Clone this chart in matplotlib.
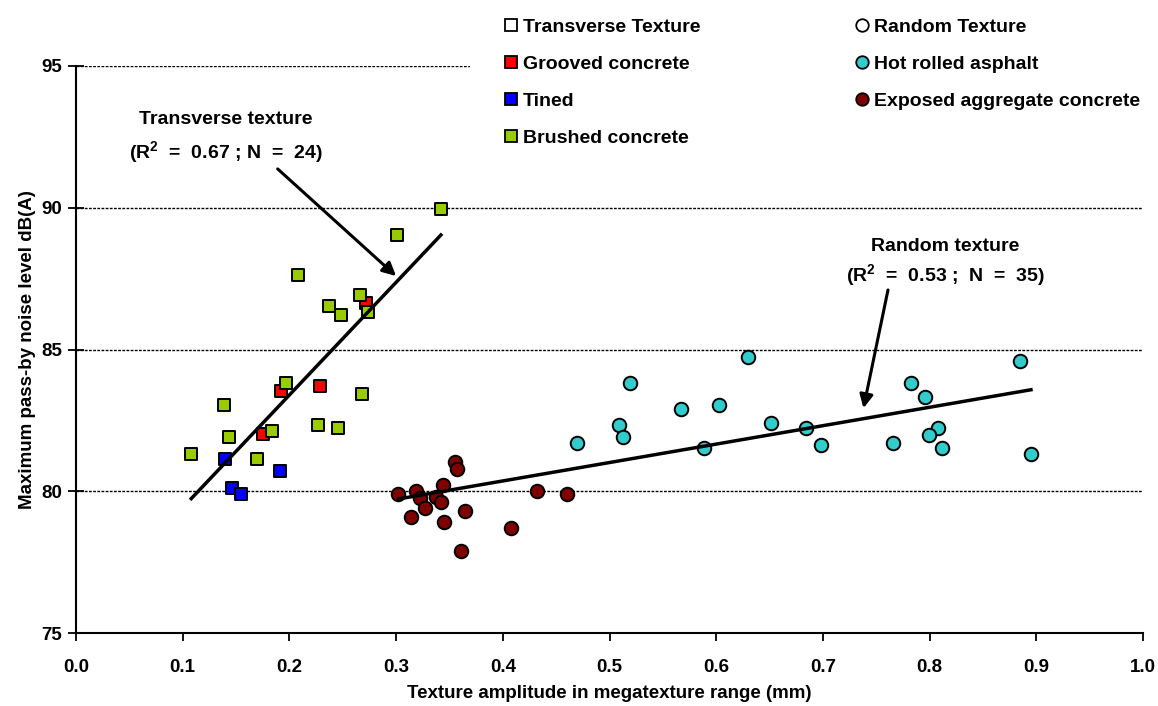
import numpy as np
import matplotlib
matplotlib.use("Agg")
import matplotlib.pyplot as plt
from matplotlib.lines import Line2D
from matplotlib.patches import Rectangle

plt.rcParams['font.family'] = ['Liberation Sans', 'DejaVu Sans']
plt.rcParams['font.weight'] = 'bold'
plt.rcParams['axes.labelweight'] = 'bold'
plt.rcParams['mathtext.fontset'] = 'custom'
plt.rcParams['mathtext.rm'] = 'Liberation Sans:bold'
plt.rcParams['mathtext.bf'] = 'Liberation Sans:bold'
plt.rcParams['mathtext.default'] = 'bf'

# transverse texture surfaces
grooved_x = [0.272, 0.192, 0.229, 0.175]
grooved_y = [86.65, 83.54, 83.71, 82.02]
tined_x = [0.140, 0.191, 0.146, 0.155]
tined_y = [81.14, 80.71, 80.11, 79.90]
brushed_x = [0.342, 0.301, 0.208, 0.266, 0.237, 0.248, 0.274, 0.197,
             0.268, 0.139, 0.184, 0.227, 0.246, 0.143, 0.108, 0.170]
brushed_y = [89.96, 89.04, 87.63, 86.92, 86.53, 86.22, 86.31, 83.83,
             83.43, 83.04, 82.13, 82.34, 82.23, 81.91, 81.31, 81.14]

# random texture surfaces
hra_x = [0.470, 0.509, 0.513, 0.519, 0.567, 0.589, 0.603, 0.630, 0.651, 0.684,
         0.698, 0.885, 0.783, 0.796, 0.808, 0.799, 0.812, 0.766, 0.895]
hra_y = [81.70, 82.33, 81.91, 83.83, 82.90, 81.53, 83.03, 84.72, 82.41, 82.24,
         81.62, 84.60, 83.82, 83.31, 82.23, 82.00, 81.51, 81.70, 81.30]
exposed_x = [0.302, 0.319, 0.322, 0.344, 0.337, 0.342, 0.327, 0.314,
             0.345, 0.365, 0.355, 0.357, 0.361, 0.408, 0.432, 0.460]
exposed_y = [79.90, 80.02, 79.75, 80.22, 79.79, 79.62, 79.40, 79.08,
             78.90, 79.31, 81.04, 80.80, 77.89, 78.71, 80.02, 79.90]

x_ticks = [0.0, 0.1, 0.2, 0.3, 0.4, 0.5, 0.6, 0.7, 0.8, 0.9, 1.0]
y_ticks = [75, 80, 85, 90, 95]

W, H = 1158, 706
fig = plt.figure(figsize=(W / 100, H / 100), dpi=100)
ax = fig.add_axes([76 / W, 1 - 633 / H, (1143 - 76) / W, (633 - 66) / H])

ax.set_xlim(0, 1.0)
ax.set_ylim(75, 95)
ax.set_xticks(x_ticks)
ax.set_yticks(y_ticks)
ax.set_xticklabels(['%.1f' % t for t in x_ticks])
ax.tick_params(axis='both', labelsize=13.5, width=1.3)
ax.tick_params(axis='y', direction='inout', length=12, pad=4)
ax.tick_params(axis='x', direction='out', length=6, pad=13)
for s in ['top', 'right']:
    ax.spines[s].set_visible(False)
for s in ['left', 'bottom']:
    ax.spines[s].set_linewidth(1.5)
ax.yaxis.grid(True, linestyle=(0, (2, 1)), color='black', linewidth=1.0)
ax.set_axisbelow(True)

sq = dict(marker='s', s=85, edgecolors='black', linewidths=1.4, zorder=3)
ci = dict(marker='o', s=95, edgecolors='black', linewidths=1.4, zorder=3)
ax.scatter(grooved_x, grooved_y, c='#ff0000', **sq)
ax.scatter(tined_x, tined_y, c='#0000ff', **sq)
ax.scatter(brushed_x, brushed_y, c='#99cc00', **sq)
ax.scatter(hra_x, hra_y, c='#33cccc', **ci)
ax.scatter(exposed_x, exposed_y, c='#800000', **ci)

# trend lines
tx = np.array(grooved_x + tined_x + brushed_x)
ty = np.array(grooved_y + tined_y + brushed_y)
p = np.polyfit(tx, ty, 1)
xs = np.array([tx.min(), tx.max()])
ax.plot(xs, np.polyval(p, xs), color='black', linewidth=2.5, zorder=4)

rx = np.array(hra_x + exposed_x)
ry = np.array(hra_y + exposed_y)
p = np.polyfit(rx, ry, 1)
xs = np.array([rx.min(), rx.max()])
ax.plot(xs, np.polyval(p, xs), color='black', linewidth=2.5, zorder=4)

arrow = dict(arrowstyle='-|>', color='black', lw=2.2, mutation_scale=20,
             shrinkA=0, shrinkB=0)
ax.annotate('', xy=(0.300, 87.59), xytext=(0.189, 91.37), arrowprops=arrow)
ax.text(0.140, 93.1, 'Transverse texture', ha='center', va='center', fontsize=14)
ax.text(0.140, 91.97, '(R$^{2}$  =  0.67 ; N  =  24)', ha='center', va='center', fontsize=14)

ax.annotate('', xy=(0.738, 82.93), xytext=(0.761, 87.1), arrowprops=arrow)
ax.text(0.815, 88.65, 'Random texture', ha='center', va='center', fontsize=14)
ax.text(0.815, 87.63, '(R$^{2}$  =  0.53 ;  N  =  35)', ha='center', va='center', fontsize=14)

ax.set_xlabel('Texture amplitude in megatexture range (mm)', fontsize=13.5, labelpad=6)
ax.set_ylabel('Maximum pass-by noise level dB(A)', fontsize=13.5, labelpad=4)

# white block behind legend (hides the top grid line there)
fig.patches.append(Rectangle((470 / W, 1 - 160 / H), 690 / W, 160 / H,
                             transform=fig.transFigure, facecolor='white',
                             edgecolor='none', zorder=1))


def h(m, fc):
    return Line2D([], [], linestyle='none', marker=m, markersize=9,
                  markerfacecolor=fc, markeredgecolor='black', markeredgewidth=1.3)


handles1 = [h('s', 'white'), h('s', '#ff0000'), h('s', '#0000ff'), h('s', '#99cc00')]
labels1 = ['Transverse Texture', 'Grooved concrete', 'Tined', 'Brushed concrete']
handles2 = [h('o', 'white'), h('o', '#33cccc'), h('o', '#800000')]
labels2 = ['Random Texture', 'Hot rolled asphalt', 'Exposed aggregate concrete']

leg_kw = dict(loc='upper left', fontsize=14, frameon=False, handlelength=0.6,
              handletextpad=0.32, labelspacing=1.0, borderpad=0, borderaxespad=0)
l1 = fig.legend(handles1, labels1, bbox_to_anchor=(505 / W, 1 - 18 / H), **leg_kw)
l2 = fig.legend(handles2, labels2, bbox_to_anchor=(856 / W, 1 - 18 / H), **leg_kw)
l1.set_zorder(2)
l2.set_zorder(2)

fig.savefig('out.png', dpi=100)
